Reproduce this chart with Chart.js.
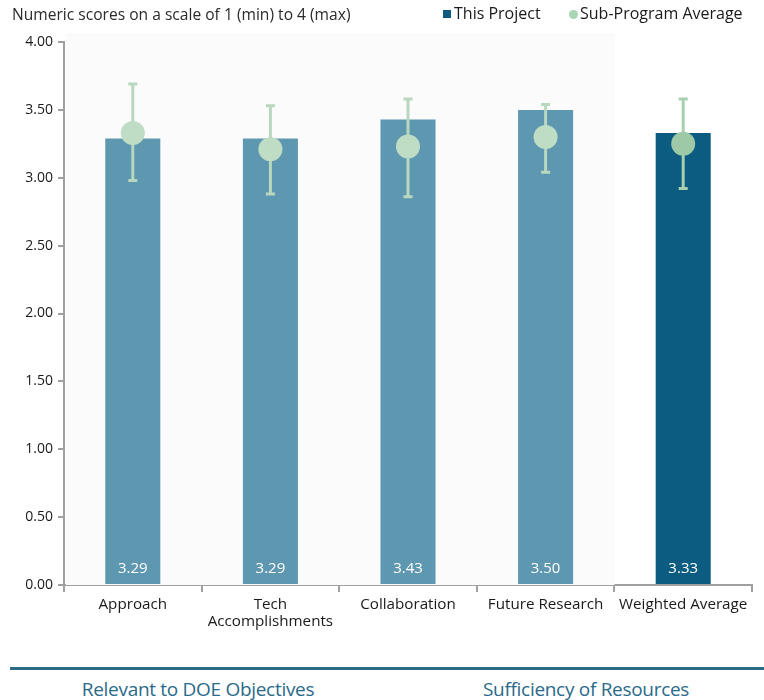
<!DOCTYPE html>
<html>
<head>
<meta charset="utf-8">
<script src="https://cdn.jsdelivr.net/npm/chart.js@4/dist/chart.umd.min.js"></script>
<style>
  html, body { margin: 0; padding: 0; background: #ffffff; }
  #wrap { position: relative; width: 764px; height: 700px; overflow: hidden; font-family: "Open Sans", sans-serif; }
  #chart { position: absolute; left: 0; top: 0; }
  .title { position: absolute; left: 12px; top: 3px; font-size: 15.6px; color: #2a2a2a; white-space: nowrap; }
  .legend { position: absolute; top: 2px; font-size: 16px; color: #1a1a1a; white-space: nowrap; }
  .sq { position: absolute; width: 8px; height: 8px; background: #0f5b7e; }
  .dot { position: absolute; width: 9px; height: 9px; border-radius: 50%; background: #a9d6b5; }
  .rule { position: absolute; left: 10px; right: 0; top: 667px; height: 3px; background: #2c6a86; }
  .foot { position: absolute; top: 676px; font-size: 19px; color: #2a6a8a; white-space: nowrap; transform: translateX(-50%); letter-spacing: -0.3px; }
</style>
</head>
<body>
<div id="wrap">
  <canvas id="chart" width="764" height="640"></canvas>
  <div class="title">Numeric scores on a scale of 1 (min) to 4 (max)</div>
  <div class="sq" style="left:443px; top:10px;"></div>
  <div class="legend" style="left:454px;">This Project</div>
  <div class="dot" style="left:569px; top:10px;"></div>
  <div class="legend" style="left:580px;">Sub-Program Average</div>
  <div class="rule"></div>
  <div class="foot" style="left:198px;">Relevant to DOE Objectives</div>
  <div class="foot" style="left:586px;">Sufficiency of Resources</div>
</div>
<script>
const categories = ['Approach', ['Tech', 'Accomplishments'], 'Collaboration', 'Future Research', 'Weighted Average'];
const projectScores = [3.29, 3.29, 3.43, 3.50, 3.33];
const subProgramAvg = [3.33, 3.21, 3.23, 3.30, 3.25];
const subProgramLow = [2.98, 2.88, 2.86, 3.04, 2.92];
const subProgramHigh = [3.69, 3.53, 3.58, 3.54, 3.58];
const yTickValues = [0, 0.5, 1, 1.5, 2, 2.5, 3, 3.5, 4];

const barColors = ['#5e97b0', '#5e97b0', '#5e97b0', '#5e97b0', '#0b5c80'];
const dotColors = ['#bfdcc5', '#bfdcc5', '#bfdcc5', '#bfdcc5', '#9dc9a6'];
const whiskerColors = ['#b9d7bf', '#b9d7bf', '#b9d7bf', '#b9d7bf', '#a8cfb0'];

const bgPlugin = {
  id: 'plotBg',
  beforeDatasetsDraw(chart) {
    const { ctx, chartArea, scales } = chart;
    const x = scales.x;
    const right = (x.getPixelForValue(3) + x.getPixelForValue(4)) / 2;
    ctx.save();
    ctx.fillStyle = '#fbfbfb';
    ctx.fillRect(chartArea.left + 2, 33, right - chartArea.left - 2, chartArea.bottom - 33);
    ctx.restore();
  }
};

const errPlugin = {
  id: 'errBars',
  beforeDatasetDraw(chart, args) {
    if (args.index !== 1) return;
    const { ctx, scales } = chart;
    const meta = chart.getDatasetMeta(1);
    ctx.save();
    meta.data.forEach((pt, i) => {
      const x = pt.x;
      const yl = scales.y.getPixelForValue(subProgramLow[i]);
      const yh = scales.y.getPixelForValue(subProgramHigh[i]);
      ctx.strokeStyle = whiskerColors[i];
      ctx.lineWidth = 3;
      ctx.beginPath();
      ctx.moveTo(x, yl);
      ctx.lineTo(x, yh);
      ctx.stroke();
      ctx.beginPath();
      ctx.moveTo(x - 4.5, yl); ctx.lineTo(x + 4.5, yl);
      ctx.moveTo(x - 4.5, yh); ctx.lineTo(x + 4.5, yh);
      ctx.stroke();
    });
    ctx.restore();
  }
};

const labelPlugin = {
  id: 'barLabels',
  afterDatasetsDraw(chart) {
    const { ctx, scales } = chart;
    const meta = chart.getDatasetMeta(0);
    ctx.save();
    ctx.fillStyle = '#ffffff';
    ctx.font = '15px "Open Sans", sans-serif';
    ctx.textAlign = 'center';
    ctx.textBaseline = 'middle';
    const y = scales.y.getPixelForValue(0) - 16;
    meta.data.forEach((bar, i) => {
      ctx.fillText(projectScores[i].toFixed(2), bar.x, y);
    });
    ctx.restore();
  }
};

new Chart(document.getElementById('chart'), {
  data: {
    labels: categories,
    datasets: [
      {
        type: 'bar',
        label: 'This Project',
        data: projectScores,
        backgroundColor: barColors,
        borderWidth: 0,
        barPercentage: 0.4,
        categoryPercentage: 1.0,
        order: 1
      },
      {
        type: 'line',
        label: 'Sub-Program Average',
        data: subProgramAvg,
        showLine: false,
        pointRadius: 12,
        pointHoverRadius: 12,
        pointBackgroundColor: dotColors,
        pointBorderWidth: 0,
        order: 0
      }
    ]
  },
  options: {
    responsive: false,
    animation: false,
    events: [],
    layout: { padding: { top: 42, right: 12, left: 0, bottom: 0 } },
    plugins: { legend: { display: false }, tooltip: { enabled: false } },
    scales: {
      x: {
        offset: true,
        afterFit(s) { s.height = 55; },
        grid: { drawOnChartArea: false, offset: true, tickLength: 7, color: '#a0a0a0', lineWidth: 2 },
        border: { color: '#a0a0a0', width: 2 },
        ticks: { color: '#1a1a1a', font: { family: 'Open Sans', size: 15.2, lineHeight: 1.12 }, padding: 4, maxRotation: 0, autoSkip: false }
      },
      y: {
        min: 0,
        max: 4,
        afterFit(s) { s.width = 64; },
        afterBuildTicks(s) { s.ticks = yTickValues.map(v => ({ value: v })); },
        grid: { drawOnChartArea: false, tickLength: 6, color: '#a0a0a0', lineWidth: 2 },
        border: { color: '#a0a0a0', width: 2 },
        ticks: { color: '#1a1a1a', font: { family: 'Open Sans', size: 14 }, padding: 5, callback: v => Number(v).toFixed(2) }
      }
    }
  },
  plugins: [bgPlugin, errPlugin, labelPlugin]
});
</script>
</body>
</html>
